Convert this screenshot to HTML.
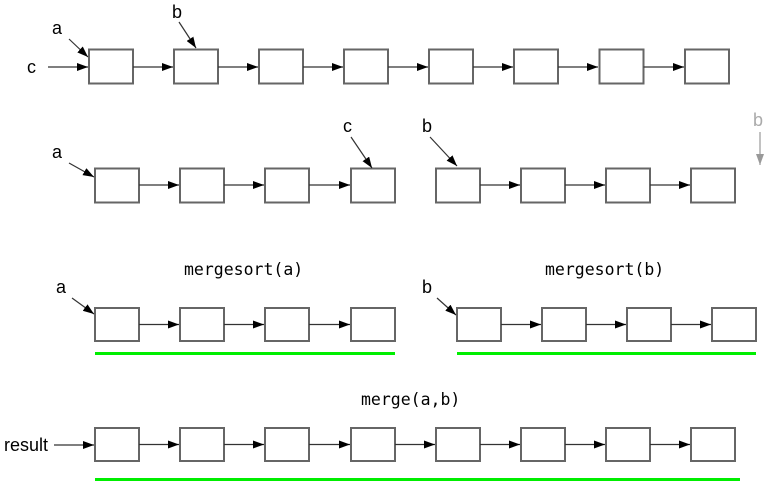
<!DOCTYPE html>
<html><head><meta charset="utf-8"><style>
html,body{margin:0;padding:0;background:#fff;}
svg{display:block;}
.bx{fill:#fff;stroke:#666;stroke-width:2;}
.ln{stroke:#333;stroke-width:1.2;fill:none;}
.t{font-family:"Liberation Sans",Arial,sans-serif;font-size:18px;fill:#000;}
.m{font-family:"DejaVu Sans Mono","Liberation Mono",monospace;font-size:16.5px;fill:#000;}
.g{stroke:#00ee00;stroke-width:3;}
</style></head><body>
<svg width="771" height="491" viewBox="0 0 771 491" xmlns="http://www.w3.org/2000/svg">
<defs>
<marker id="ah" markerWidth="12" markerHeight="8" refX="11" refY="4" orient="auto" markerUnits="userSpaceOnUse">
<path d="M0,0 L11,4 L0,8 z" fill="#000"/></marker>
<marker id="ahg" markerWidth="12" markerHeight="8" refX="11" refY="4" orient="auto" markerUnits="userSpaceOnUse">
<path d="M0,0 L11,4 L0,8 z" fill="#999"/></marker>
</defs>

<!-- Row 1 -->
<g>
<rect class="bx" x="89" y="49.5" width="44" height="34"/>
<rect class="bx" x="174" y="49.5" width="44" height="34"/>
<rect class="bx" x="259" y="49.5" width="44" height="34"/>
<rect class="bx" x="344" y="49.5" width="44" height="34"/>
<rect class="bx" x="429" y="49.5" width="44" height="34"/>
<rect class="bx" x="514" y="49.5" width="44" height="34"/>
<rect class="bx" x="599.5" y="49.5" width="44" height="34"/>
<rect class="bx" x="685" y="49.5" width="44" height="34"/>
<line class="ln" x1="133" y1="67" x2="173" y2="67" marker-end="url(#ah)"/>
<line class="ln" x1="218" y1="67" x2="258" y2="67" marker-end="url(#ah)"/>
<line class="ln" x1="303" y1="67" x2="343" y2="67" marker-end="url(#ah)"/>
<line class="ln" x1="388" y1="67" x2="428" y2="67" marker-end="url(#ah)"/>
<line class="ln" x1="473" y1="67" x2="513" y2="67" marker-end="url(#ah)"/>
<line class="ln" x1="558" y1="67" x2="598" y2="67" marker-end="url(#ah)"/>
<line class="ln" x1="643.5" y1="67" x2="684" y2="67" marker-end="url(#ah)"/>
<text class="t" x="52" y="34">a</text>
<line class="ln" x1="69" y1="39" x2="88" y2="57" marker-end="url(#ah)"/>
<text class="t" x="172" y="18">b</text>
<line class="ln" x1="179" y1="22" x2="196" y2="48" marker-end="url(#ah)"/>
<text class="t" x="27" y="73">c</text>
<line class="ln" x1="48" y1="67" x2="88" y2="67" marker-end="url(#ah)"/>
</g>

<!-- Row 2 -->
<g>
<rect class="bx" x="95" y="168.5" width="44" height="34"/>
<rect class="bx" x="180" y="168.5" width="44" height="34"/>
<rect class="bx" x="265" y="168.5" width="44" height="34"/>
<rect class="bx" x="351" y="168.5" width="44" height="34"/>
<line class="ln" x1="139" y1="185" x2="179" y2="185" marker-end="url(#ah)"/>
<line class="ln" x1="224" y1="185" x2="264" y2="185" marker-end="url(#ah)"/>
<line class="ln" x1="309" y1="185" x2="350" y2="185" marker-end="url(#ah)"/>
<rect class="bx" x="436" y="168.5" width="44" height="34"/>
<rect class="bx" x="521" y="168.5" width="44" height="34"/>
<rect class="bx" x="606" y="168.5" width="44" height="34"/>
<rect class="bx" x="691" y="168.5" width="44" height="34"/>
<line class="ln" x1="480" y1="185" x2="520" y2="185" marker-end="url(#ah)"/>
<line class="ln" x1="565" y1="185" x2="605" y2="185" marker-end="url(#ah)"/>
<line class="ln" x1="650" y1="185" x2="690" y2="185" marker-end="url(#ah)"/>
<text class="t" x="52" y="158">a</text>
<line class="ln" x1="69" y1="163" x2="94" y2="177" marker-end="url(#ah)"/>
<text class="t" x="343" y="132">c</text>
<line class="ln" x1="351" y1="137" x2="372" y2="168" marker-end="url(#ah)"/>
<text class="t" x="422" y="132">b</text>
<line class="ln" x1="430" y1="137" x2="457" y2="166" marker-end="url(#ah)"/>
<text class="t" x="753" y="126" style="fill:#aaa">b</text>
<line x1="760" y1="132" x2="760" y2="165" stroke="#999" stroke-width="1.2" marker-end="url(#ahg)"/>
</g>

<!-- Row 3 -->
<g>
<text class="m" x="184" y="275">mergesort(a)</text>
<text class="m" x="545" y="275">mergesort(b)</text>
<rect class="bx" x="95" y="308" width="44" height="33"/>
<rect class="bx" x="180" y="308" width="44" height="33"/>
<rect class="bx" x="265" y="308" width="44" height="33"/>
<rect class="bx" x="351" y="308" width="44" height="33"/>
<line class="ln" x1="139" y1="324.5" x2="179" y2="324.5" marker-end="url(#ah)"/>
<line class="ln" x1="224" y1="324.5" x2="264" y2="324.5" marker-end="url(#ah)"/>
<line class="ln" x1="309" y1="324.5" x2="350" y2="324.5" marker-end="url(#ah)"/>
<rect class="bx" x="457" y="308" width="44" height="33"/>
<rect class="bx" x="542" y="308" width="44" height="33"/>
<rect class="bx" x="627" y="308" width="44" height="33"/>
<rect class="bx" x="712" y="308" width="44" height="33"/>
<line class="ln" x1="501" y1="324.5" x2="541" y2="324.5" marker-end="url(#ah)"/>
<line class="ln" x1="586" y1="324.5" x2="626" y2="324.5" marker-end="url(#ah)"/>
<line class="ln" x1="671" y1="324.5" x2="711" y2="324.5" marker-end="url(#ah)"/>
<text class="t" x="56" y="293">a</text>
<line class="ln" x1="72" y1="298" x2="94" y2="314" marker-end="url(#ah)"/>
<text class="t" x="422" y="293">b</text>
<line class="ln" x1="437" y1="298" x2="456" y2="315" marker-end="url(#ah)"/>
<line class="g" x1="95" y1="353.5" x2="395" y2="353.5"/>
<line class="g" x1="457" y1="353.5" x2="756" y2="353.5"/>
</g>

<!-- Row 4 -->
<g>
<text class="m" x="361" y="405">merge(a,b)</text>
<rect class="bx" x="95" y="428" width="44" height="33"/>
<rect class="bx" x="180" y="428" width="44" height="33"/>
<rect class="bx" x="265" y="428" width="44" height="33"/>
<rect class="bx" x="351" y="428" width="44" height="33"/>
<rect class="bx" x="436" y="428" width="44" height="33"/>
<rect class="bx" x="521" y="428" width="44" height="33"/>
<rect class="bx" x="606" y="428" width="44" height="33"/>
<rect class="bx" x="691" y="428" width="44" height="33"/>
<line class="ln" x1="139" y1="444.5" x2="179" y2="444.5" marker-end="url(#ah)"/>
<line class="ln" x1="224" y1="444.5" x2="264" y2="444.5" marker-end="url(#ah)"/>
<line class="ln" x1="309" y1="444.5" x2="350" y2="444.5" marker-end="url(#ah)"/>
<line class="ln" x1="395" y1="444.5" x2="435" y2="444.5" marker-end="url(#ah)"/>
<line class="ln" x1="480" y1="444.5" x2="520" y2="444.5" marker-end="url(#ah)"/>
<line class="ln" x1="565" y1="444.5" x2="605" y2="444.5" marker-end="url(#ah)"/>
<line class="ln" x1="650" y1="444.5" x2="690" y2="444.5" marker-end="url(#ah)"/>
<text class="t" x="4" y="451">result</text>
<line class="ln" x1="54" y1="445" x2="94" y2="445" marker-end="url(#ah)"/>
<line class="g" x1="95" y1="479.5" x2="740" y2="479.5"/>
</g>
</svg>
</body></html>
